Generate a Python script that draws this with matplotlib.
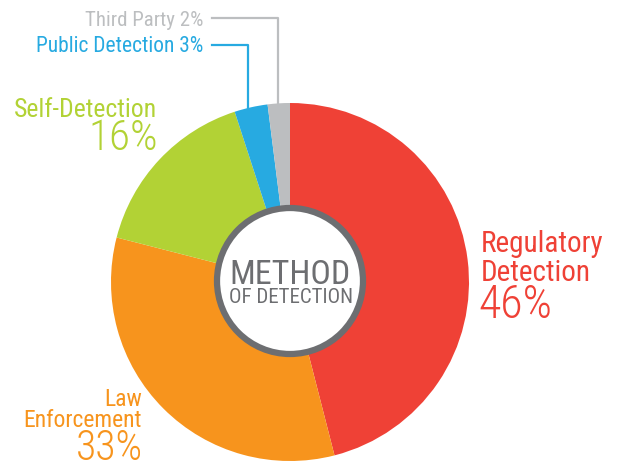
import matplotlib
matplotlib.use("Agg")
import matplotlib.pyplot as plt
from matplotlib import font_manager
from matplotlib.patches import Circle

# data
labels = ["Regulatory Detection", "Law Enforcement", "Self-Detection", "Public Detection", "Third Party"]
shares = [46, 33, 16, 3, 2]
colors = ["#EF4136", "#F7941D", "#B2D235", "#27AAE1", "#BCBEC0"]

names = set(f.name for f in font_manager.fontManager.ttflist)
fam = "Roboto"
for cand in ["Roboto Condensed", "Liberation Sans Narrow", "Roboto"]:
    if cand in names:
        fam = cand
        break
plt.rcParams["font.family"] = [fam, "DejaVu Sans"]

W, H = 626, 462
fig = plt.figure(figsize=(W / 100, H / 100), dpi=100)
ax = fig.add_axes([0, 0, 1, 1])

def Y(y):
    return H - y

cx, cy, r = 290, 282, 179
ax.pie(shares, colors=colors, startangle=90, counterclock=False,
       center=(cx, Y(cy)), radius=r, wedgeprops=dict(linewidth=0), frame=True)
ax.set_xlim(0, W)
ax.set_ylim(0, H)
ax.set_aspect("equal")
ax.axis("off")

# centre badge
gray = "#6D6E71"
ax.add_patch(Circle((cx, Y(281)), 73, facecolor="white", edgecolor=gray, linewidth=4.5, zorder=3))
ax.text(cx, Y(284), "METHOD", ha="center", va="baseline", fontsize=24.5, color=gray, zorder=4)
ax.text(cx + 1, Y(303), "OF DETECTION", ha="center", va="baseline", fontsize=15, color=gray, zorder=4)

def label(x, y, s, size, c, ha, w="normal"):
    ax.text(x, Y(y), s, ha=ha, va="baseline", fontsize=size, color=c, fontweight=w)

# regulatory
label(481, 252, labels[0].split()[0], 21, colors[0], "left")
label(481, 281, labels[0].split()[1], 21, colors[0], "left")
label(478, 318, f"{shares[0]}%", 33, colors[0], "left", "light")

# law enforcement
label(142, 406, labels[1].split()[0], 17, colors[1], "right")
label(142, 427, labels[1].split()[1], 17, colors[1], "right")
label(143, 460, f"{shares[1]}%", 30, colors[1], "right", "light")

# self detection
label(157, 117, labels[2], 18.5, colors[2], "right")
label(158, 150, f"{shares[2]}%", 31, colors[2], "right", "light")

# small slices with leader lines
label(203, 52, f"{labels[3]} {shares[3]}%", 15.5, colors[3], "right")
ax.plot([212, 248, 248], [Y(45), Y(45), Y(108)], color=colors[3], lw=1.6)

label(203, 26, f"{labels[4]} {shares[4]}%", 15, colors[4], "right")
ax.plot([212, 278, 278], [Y(18), Y(18), Y(104)], color=colors[4], lw=1.6)

fig.savefig("out.png", dpi=100)
